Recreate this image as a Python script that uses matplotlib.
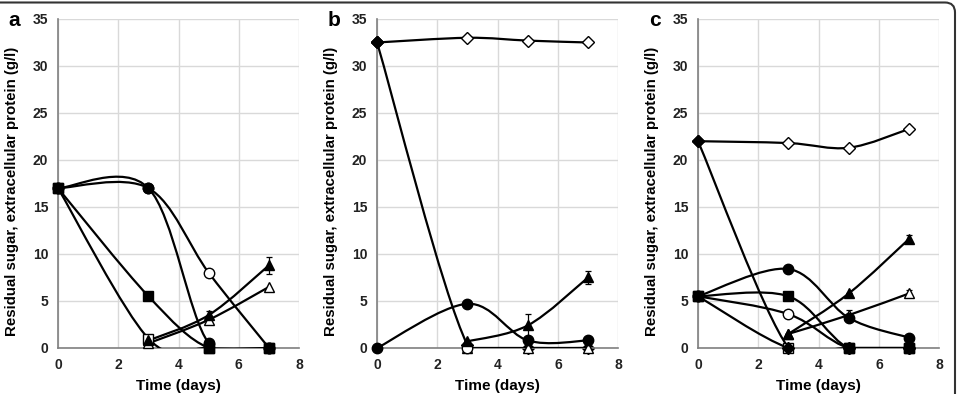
import numpy as np
import matplotlib
matplotlib.use("Agg")
import matplotlib.pyplot as plt
from matplotlib.path import Path
from matplotlib.patches import PathPatch, FancyBboxPatch

plt.rcParams["font.family"] = ["Liberation Sans", "DejaVu Sans"]
plt.rcParams["font.weight"] = "bold"

# sampling days
days = [0, 3, 5, 7]
days3 = [3, 5, 7]

# panel a
a_circle_f = [17, 17, 0.5, 0]
a_circle_o = [17, 17, 8, 0]
a_square_f = [17, 5.5, 0, 0]
a_square_o = [17, 1, 0, 0]
a_tri_f = [0.8, 3.5, 8.8]
a_tri_f_err = [0, 0.4, 0.9]
a_tri_o = [0.5, 3.0, 6.5]
a_tri_o_err = [0, 0, 0]

# panel b
b_diam_o = [32.5, 33.0, 32.7, 32.5]
b_diam_f = [32.5, 0.3, 0, 0]
b_circle_f = [0, 4.7, 0.8, 0.8]
b_circle_o = [0, 0, 0]
b_tri_o = [0, 0, 0]
b_tri_f = [0.7, 2.4, 7.5]
b_tri_f_err = [0, 1.2, 0.7]

# panel c
c_diam_o = [22, 21.8, 21.3, 23.3]
c_diam_f = [22, 0, 0, 0]
c_circle_f = [5.5, 8.4, 3.2, 1.1]
c_square_f = [5.5, 5.5, 0, 0]
c_circle_o = [5.5, 3.6, 0, 0]
c_square_o = [5.5, 0, 0, 0]
c_tri_f = [1.5, 5.8, 11.6]
c_tri_f_err = [0, 0, 0.4]
c_tri_o = [1.5, 3.5, 5.8]
c_tri_o_err = [0, 0.5, 0.4]

ylabel = "Residual sugar, extracellular protein (g/l)"


def smooth_path(xs, ys):
    # excel style smoothed line (bezier through the points)
    pts = np.column_stack([xs, ys]).astype(float)
    n = len(pts)
    verts = [pts[0]]
    codes = [Path.MOVETO]
    for i in range(n - 1):
        p0 = pts[max(i - 1, 0)]
        p1 = pts[i]
        p2 = pts[i + 1]
        p3 = pts[min(i + 2, n - 1)]
        verts += [p1 + (p2 - p0) / 6, p2 - (p3 - p1) / 6, p2]
        codes += [Path.CURVE4] * 3
    return Path(verts, codes)


def series(ax, xs, ys, marker, filled, ms=7.5, err=None, z=3):
    ax.add_patch(PathPatch(smooth_path(xs, ys), fill=False, lw=1.6,
                           edgecolor="black", zorder=z))
    fc = "black" if filled else "white"
    if err is not None and any(e > 0 for e in err):
        ax.errorbar(xs, ys, yerr=err, fmt="none", ecolor="black",
                    elinewidth=0.9, capsize=2.5, capthick=0.9, zorder=z)
    ax.plot(xs, ys, ls="none", marker=marker, ms=ms, mfc=fc, mec="black",
            mew=1.0, clip_on=False, zorder=z + 0.5)


fig = plt.figure(figsize=(9.57, 3.94), dpi=100)
lefts = [0.0606, 0.394, 0.7294]
axes = []
for l in lefts:
    ax = fig.add_axes([l, 0.1168, 0.252, 0.835])
    ax.set_xlim(0, 8)
    ax.set_ylim(0, 35)
    ax.set_xticks([0, 2, 4, 6, 8])
    ax.set_yticks(range(0, 36, 5))
    ax.grid(True, color="#d9d9d9", lw=1.0)
    ax.set_axisbelow(True)
    for s in ["top", "right"]:
        ax.spines[s].set_visible(False)
    ax.spines["left"].set_color("#7f7f7f")
    ax.spines["bottom"].set_color("#7f7f7f")
    ax.spines["left"].set_linewidth(1.2)
    ax.spines["bottom"].set_linewidth(1.2)
    ax.tick_params(length=0, labelsize=10, pad=7, colors="#222222")
    for t in ax.get_xticklabels() + ax.get_yticklabels():
        t.set_fontweight("bold")
    ax.set_xlabel("Time (days)", fontsize=11, fontweight="bold", labelpad=5)
    ax.set_ylabel(ylabel, fontsize=10.8, fontweight="bold")
    ax.yaxis.set_label_coords(-0.16, 0.475)
    axes.append(ax)

ax = axes[0]
series(ax, days, a_square_o, "s", False)
series(ax, days3, a_tri_o, "^", False, err=a_tri_o_err)
series(ax, days3, a_tri_f, "^", True, err=a_tri_f_err)
series(ax, days, a_circle_o, "o", False)
series(ax, days, a_circle_f, "o", True)
series(ax, days, a_square_f, "s", True)

ax = axes[1]
series(ax, days, b_diam_f, "D", True, ms=6, z=2)
series(ax, days, b_diam_o, "D", False, ms=6)
series(ax, days3, b_tri_o, "^", False)
series(ax, days3[:1], b_circle_o[:1], "o", False)
series(ax, days3, b_tri_f, "^", True, err=b_tri_f_err)
series(ax, days, b_circle_f, "o", True)
ax.plot(days[:1], b_diam_f[:1], ls="none", marker="D", ms=6, mfc="black",
        mec="black", clip_on=False, zorder=6)

ax = axes[2]
series(ax, days, c_diam_o, "D", False, ms=6)
series(ax, days, c_square_o, "s", False)
series(ax, days, c_circle_o, "o", False)
series(ax, days3, c_tri_o, "^", False, err=c_tri_o_err)
series(ax, days3, c_tri_f, "^", True, err=c_tri_f_err)
series(ax, days, c_circle_f, "o", True)
series(ax, days, c_square_f, "s", True)
series(ax, days, c_diam_f, "D", True, ms=6)

for ax, letter in zip(axes, ["a", "b", "c"]):
    ax.text(-0.18, 0.995, letter, transform=ax.transAxes, fontsize=15,
            fontweight="bold", ha="center", va="center")

# rounded frame round the whole figure
fig.patches.append(FancyBboxPatch((-20, -20), 975, 411.5,
                                  boxstyle="round,pad=0,rounding_size=10",
                                  fill=False, edgecolor="#333333", lw=1.5,
                                  transform=None, figure=fig))

fig.savefig("out.png", dpi=100)
